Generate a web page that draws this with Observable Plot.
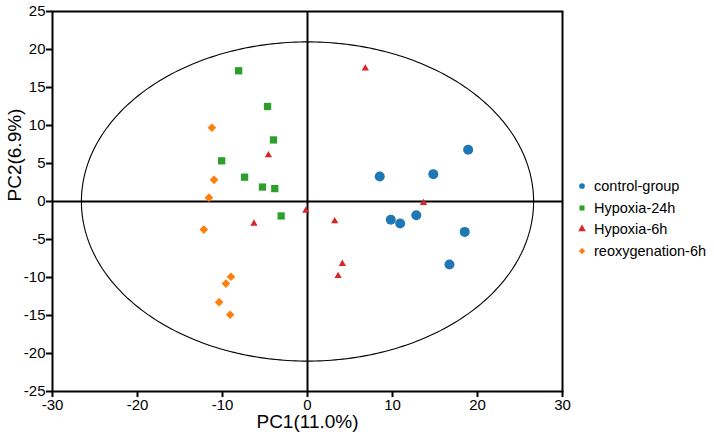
<!DOCTYPE html>
<html>
<head>
<meta charset="utf-8">
<script src="https://cdn.jsdelivr.net/npm/d3@7"></script>
<script src="https://cdn.jsdelivr.net/npm/@observablehq/plot@0.6"></script>
<style>
  body { margin: 0; background: white; }
  #wrap { position: relative; width: 714px; height: 442px; }
  #legend { position: absolute; left: 576px; top: 175px; }
  .lg-swatches { font-family: "Liberation Sans", Arial, sans-serif !important; font-size: 14.5px !important; color: #000; margin: 0 !important; }
  .lg-swatch { height: 21.7px; padding-bottom: 0 !important; }
  .lg-swatch svg { margin-right: 6px !important; }
</style>
</head>
<body>
<div id="wrap"><div id="legend"></div></div>
<script>
const groups = ["control-group", "Hypoxia-24h", "Hypoxia-6h", "reoxygenation-6h"];

const controlX = [18.9, 8.5, 14.8, 9.8, 10.9, 12.8, 18.5, 16.7];
const controlY = [6.8, 3.3, 3.6, -2.4, -2.9, -1.8, -4.0, -8.3];
const hyp24X = [-8.1, -4.7, -4.0, -10.1, -7.4, -5.3, -3.85, -3.1];
const hyp24Y = [17.2, 12.5, 8.1, 5.35, 3.2, 1.9, 1.7, -1.9];
const hyp6X = [-4.6, 6.8, 13.65, -0.2, -6.3, 3.2, 4.1, 3.6];
const hyp6Y = [6.1, 17.5, -0.2, -1.2, -2.9, -2.6, -8.2, -9.8];
const reoxX = [-11.25, -11.0, -11.6, -12.2, -9.0, -9.6, -10.4, -9.1];
const reoxY = [9.7, 2.85, 0.5, -3.7, -9.9, -10.8, -13.25, -14.9];

const xTicks = [-30, -20, -10, 0, 10, 20, 30];
const yTicks = [-25, -20, -15, -10, -5, 0, 5, 10, 15, 20, 25];
const xLabel = "PC1(11.0%)";
const yLabel = "PC2(6.9%)";

// confidence ellipse parameters (centre and semi-axes, data units)
const ellipseCx = 0, ellipseCy = 0, ellipseRx = 26.6, ellipseRy = 21.0;

// styles
const colors = ["#1f77b4", "#2ca02c", "#d62728", "#ff7f0e"];
const symbols = ["circle", "square", "triangle", "diamond2"];
const radius = {"control-group": 5, "Hypoxia-24h": 4.1, "Hypoxia-6h": 2.7, "reoxygenation-6h": 3.9};

const seriesX = [controlX, hyp24X, hyp6X, reoxX];
const seriesY = [controlY, hyp24Y, hyp6Y, reoxY];
const points = groups.flatMap((g, i) => seriesX[i].map((x, j) => ({group: g, x, y: seriesY[i][j]})));

const ellipse = d3.range(0, 361).map(a => {
  const t = a * Math.PI / 180;
  return {x: ellipseCx + ellipseRx * Math.cos(t), y: ellipseCy + ellipseRy * Math.sin(t)};
});

const font = "'Liberation Sans', Arial, sans-serif";

const plot = Plot.plot({
  width: 714,
  height: 442,
  marginLeft: 52,
  marginRight: 152,
  marginTop: 11,
  marginBottom: 51,
  style: {fontFamily: font, fontSize: "15px", background: "white", color: "black", overflow: "visible"},
  x: {domain: [-30, 30]},
  y: {domain: [-25, 25]},
  color: {domain: groups, range: colors},
  symbol: {domain: groups, range: symbols},
  r: {type: "identity"},
  marks: [
    Plot.line(ellipse, {x: "x", y: "y", stroke: "black", strokeWidth: 1.1}),
    Plot.ruleX([0], {stroke: "black", strokeWidth: 2}),
    Plot.ruleY([0], {stroke: "black", strokeWidth: 2}),
    Plot.frame({stroke: "black", strokeWidth: 2}),
    Plot.axisX(xTicks, {tickSize: 6, tickPadding: 2, strokeWidth: 2, tickFormat: d => String(d), label: null, fontSize: 15}),
    Plot.axisY(yTicks, {tickSize: 6, tickPadding: 1, strokeWidth: 2, tickFormat: d => String(d), label: null, fontSize: 15}),
    Plot.text([xLabel], {frameAnchor: "bottom", dy: 36, fontSize: 19, text: d => d}),
    Plot.text([yLabel], {frameAnchor: "left", dx: -38, rotate: -90, fontSize: 19, text: d => d}),
    Plot.dot(points, {x: "x", y: "y", fill: "group", symbol: "group", r: d => radius[d.group], stroke: "none"})
  ]
});

document.getElementById("wrap").prepend(plot);
const leg = plot.legend("symbol", {columns: 1, r: 3.8, swatchSize: 12, className: "lg"});
document.getElementById("legend").appendChild(leg);
</script>
</body>
</html>
